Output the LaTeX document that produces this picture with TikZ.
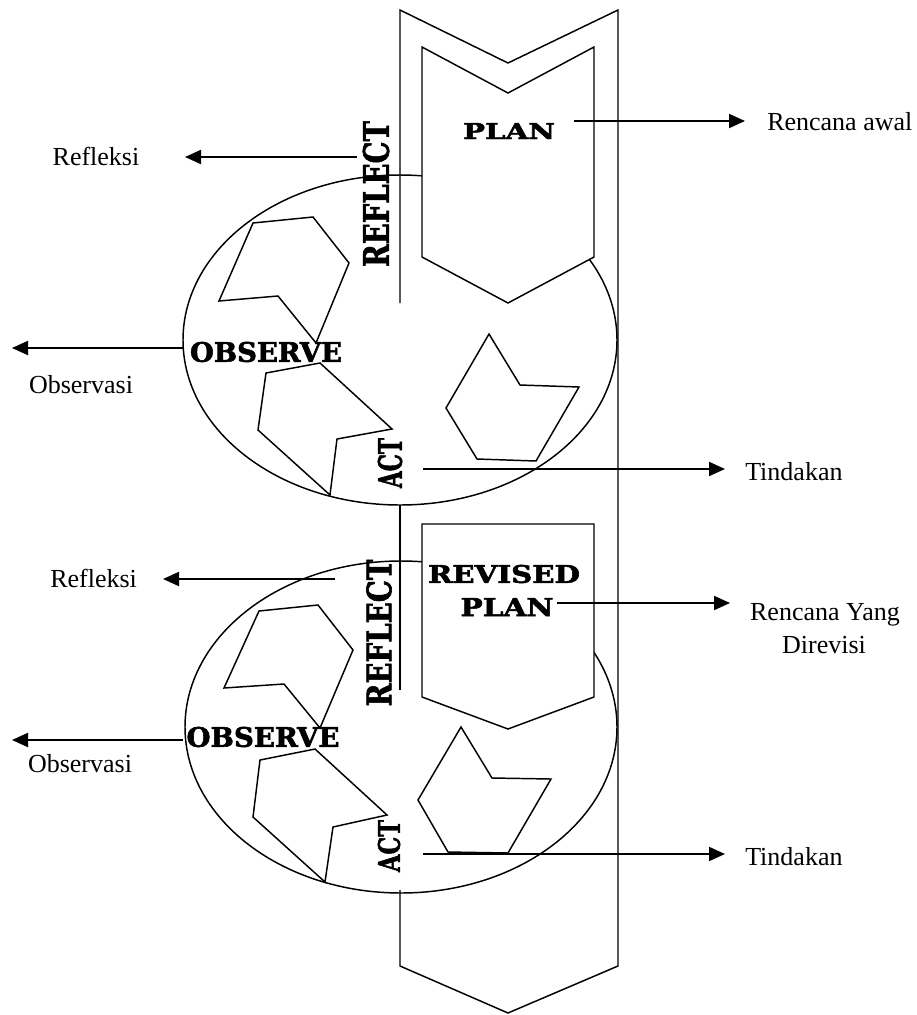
\documentclass[tikz,border=0pt]{standalone}
\usepackage{fontspec}
\setmainfont{Liberation Serif}
\newfontfamily\heavyserif[BoldFeatures={FakeBold=2}]{DejaVu Serif}
\usetikzlibrary{arrows.meta}
\newcommand{\blab}[3]{\resizebox{#1pt}{#2pt}{\heavyserif\bfseries #3}}
\begin{document}
\begin{tikzpicture}[x=0.75pt,y=-0.75pt,line join=miter,
  shp/.style={line width=1.1pt},
  arr/.style={line width=1.5pt,-{Triangle[length=12pt,width=10.5pt]}},
  lbl/.style={inner sep=0pt,font=\fontsize{19.5}{24}\selectfont},
  bold/.style={inner sep=0pt}]
\useasboundingbox (0,0) rectangle (917,1015);
% outer chevron (left side partly hidden)
\draw[shp] (400,303) -- (400,10) -- (508,63) -- (618,10) -- (618,966) -- (508,1013) -- (400,966) -- (400,890);
\draw[shp] (400,505) -- (400,690);
% cycle ellipses
\draw[shp] (400,340) ellipse [x radius=217, y radius=165];
\draw[shp] (401,727) ellipse [x radius=216, y radius=166];
% plan shapes
\draw[shp,fill=white] (422,47) -- (508,93) -- (594,47) -- (594,257) -- (508,303) -- (422,257) -- cycle;
\draw[shp,fill=white] (422,524) -- (594,524) -- (594,697) -- (508,729) -- (422,697) -- cycle;
% pentagon arrows, cycle 1
\draw[shp] (253,223) -- (313,217) -- (349,263) -- (316,343) -- (278,296) -- (219,301) -- cycle;
\draw[shp] (266,373) -- (320,363) -- (392,429) -- (337,439) -- (330,495) -- (258,430) -- cycle;
\draw[shp] (489,334) -- (520,385) -- (579,387) -- (536,461) -- (477,459) -- (446,408) -- cycle;
% pentagon arrows, cycle 2
\draw[shp] (259,611) -- (318,605) -- (353,650) -- (320,728) -- (284,684) -- (224,688) -- cycle;
\draw[shp] (260,760) -- (315,749) -- (387,815) -- (333,827) -- (325,882) -- (253,817) -- cycle;
\draw[shp] (461,727) -- (492,778) -- (551,779) -- (508,853) -- (448,852) -- (418,800) -- cycle;
% bold labels
\node[bold] (plan1) at (509,131) {\blab{69}{12}{PLAN}};
\node[bold] (revised) at (504,574) {\blab{114}{13.5}{REVISED}};
\node[bold] (plan2) at (507,607) {\blab{69.75}{13.5}{PLAN}};
\node[bold] (obs1) at (266,352) {\blab{114}{15}{OBSERVE}};
\node[bold] (obs2) at (263,737) {\blab{114.75}{15}{OBSERVE}};
\node[bold,rotate=90] (refl1) at (376,194) {\blab{109.5}{19.5}{REFLECT}};
\node[bold,rotate=90] (refl2) at (379,633) {\blab{110.25}{18.75}{REFLECT}};
\node[bold,rotate=90] (act1) at (390,463) {\blab{37.5}{18}{ACT}};
\node[bold,rotate=90] (act2) at (389,846) {\blab{39}{16.5}{ACT}};
% plain labels
\node[lbl,anchor=base] (trefl1) at (96,165) {Refleksi};
\node[lbl,anchor=base] (tobs1) at (81,393) {Observasi};
\node[lbl,anchor=base west] (tplan1) at (767,130) {Rencana awal};
\node[lbl,anchor=base west] (tact1) at (745,480) {Tindakan};
\node[lbl,anchor=base west] (trefl2) at (50,587) {Refleksi};
\node[lbl,anchor=base] (trev1) at (825,620) {Rencana Yang};
\node[lbl,anchor=base] (trev2) at (824,653) {Direvisi};
\node[lbl,anchor=base] (tobs2) at (80,772) {Observasi};
\node[lbl,anchor=base west] (tact2) at (745,865) {Tindakan};
% connector end points
\coordinate (r1s) at (357,157);  \coordinate (r1e) at (185,157);
\coordinate (o1s) at (183,348);  \coordinate (o1e) at (12,348);
\coordinate (p1s) at (574,121);  \coordinate (p1e) at (745,121);
\coordinate (a1s) at (423,469);  \coordinate (a1e) at (725,469);
\coordinate (r2s) at (335,579);  \coordinate (r2e) at (163,579);
\coordinate (p2s) at (557,603);  \coordinate (p2e) at (730,603);
\coordinate (o2s) at (183,740);  \coordinate (o2e) at (12,740);
\coordinate (a2s) at (423,854);  \coordinate (a2e) at (725,854);
% arrows
\draw[arr] (r1s) -- (r1e);
\draw[arr] (o1s) -- (o1e);
\draw[arr] (p1s) -- (p1e);
\draw[arr] (a1s) -- (a1e);
\draw[arr] (r2s) -- (r2e);
\draw[arr] (p2s) -- (p2e);
\draw[arr] (o2s) -- (o2e);
\draw[arr] (a2s) -- (a2e);
\end{tikzpicture}
\end{document}
